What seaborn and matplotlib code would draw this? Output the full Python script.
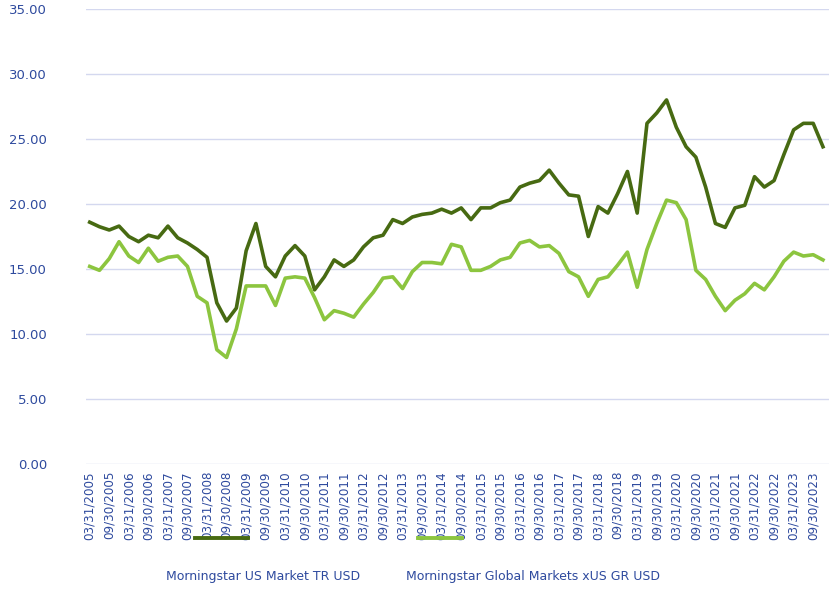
import matplotlib
matplotlib.use("Agg")
import matplotlib.pyplot as plt
import matplotlib.lines as mlines
import seaborn as sns
import pandas as pd
import numpy as np

us = [18.6,18.25,18.0,18.3,17.5,17.1,17.6,17.4,18.3,17.4,17.0,16.5,15.9,12.4,11.0,12.0,16.4,18.5,15.2,14.4,
      16.0,16.8,16.0,13.4,14.4,15.7,15.2,15.7,16.7,17.4,17.6,18.8,18.5,19.0,19.2,19.3,19.6,19.3,19.7,18.8,
      19.7,19.7,20.1,20.3,21.3,21.6,21.8,22.6,21.6,20.7,20.6,17.5,19.8,19.3,20.8,22.5,19.3,26.2,27.0,28.0,
      25.9,24.4,23.6,21.3,18.5,18.2,19.7,19.9,22.1,21.3,21.8,23.8,25.7,26.2,26.2,24.4]
gl = [15.2,14.9,15.8,17.1,16.0,15.5,16.6,15.6,15.9,16.0,15.2,12.9,12.4,8.8,8.2,10.4,13.7,13.7,13.7,12.2,
      14.3,14.4,14.3,12.8,11.1,11.8,11.6,11.3,12.3,13.2,14.3,14.4,13.5,14.8,15.5,15.5,15.4,16.9,16.7,14.9,
      14.9,15.2,15.7,15.9,17.0,17.2,16.7,16.8,16.2,14.8,14.4,12.9,14.2,14.4,15.3,16.3,13.6,16.5,18.5,20.3,
      20.1,18.8,14.9,14.2,12.9,11.8,12.6,13.1,13.9,13.4,14.4,15.6,16.3,16.0,16.1,15.7]
years = list(range(2005, 2024))
tick_labels = []
for y in years:
    tick_labels += [f"03/31/{y}", f"09/30/{y}"]
tick_labels = tick_labels[:38]
names = ["Morningstar US Market TR USD", "Morningstar Global Markets xUS GR USD"]

df = pd.DataFrame({"q": np.arange(len(us)), names[0]: us, names[1]: gl}).melt("q", var_name="s", value_name="v")
dark, light = "#476a12", "#8cc53f"
blue = "#2e4a9e"

fig = plt.figure(figsize=(8.33, 5.92), dpi=100)
ax = fig.add_axes([0.103, 0.216, 0.892, 0.769])
sns.lineplot(data=df, x="q", y="v", hue="s", palette=[dark, light], linewidth=2.6, ax=ax, legend=False)
ax.set_ylim(0, 35)
ax.set_xlim(-0.4, 75.6)
ax.set_yticks(np.arange(0, 35.1, 5))
ax.set_yticklabels([f"{v:.2f}" for v in np.arange(0, 35.1, 5)])
ax.set_xticks(np.arange(0, 75, 2))
ax.set_xticklabels(tick_labels, rotation=90)
ax.tick_params(axis="x", length=0, colors=blue, labelsize=8.6, pad=5)
ax.tick_params(axis="y", length=0, colors=blue, labelsize=9.5, pad=28)
ax.grid(axis="y", color="#d4d8ef", linewidth=1)
ax.set_axisbelow(True)
for s in ax.spines.values():
    s.set_visible(False)
ax.set_xlabel(""); ax.set_ylabel("")

fig.lines.append(mlines.Line2D([0.234, 0.298], [0.091, 0.091], color=dark, linewidth=2.8, transform=fig.transFigure))
fig.lines.append(mlines.Line2D([0.502, 0.555], [0.091, 0.091], color=light, linewidth=2.8, transform=fig.transFigure))
fig.text(0.199, 0.02, names[0], color=blue, fontsize=9)
fig.text(0.487, 0.02, names[1], color=blue, fontsize=9)
fig.savefig("out.png", dpi=100)
